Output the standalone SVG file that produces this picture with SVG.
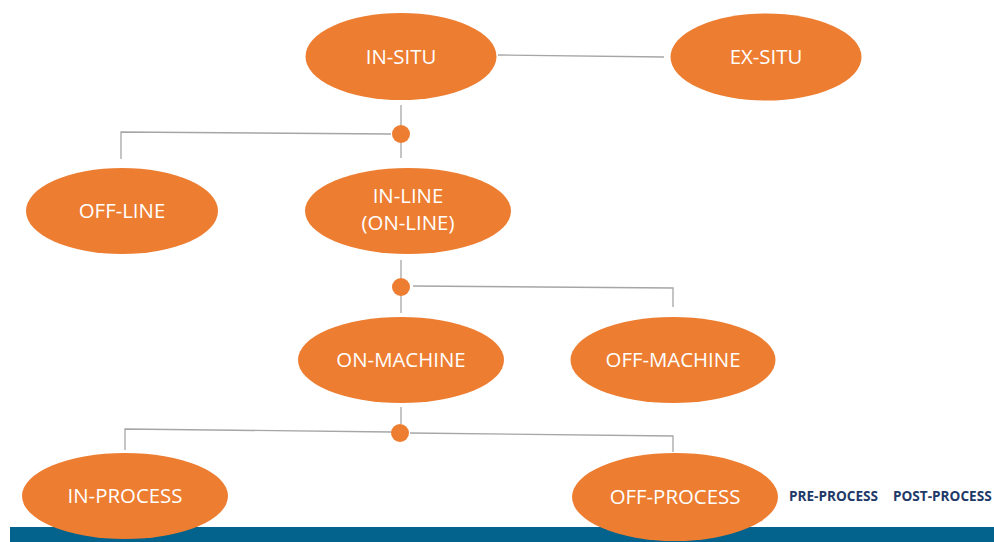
<svg xmlns="http://www.w3.org/2000/svg" width="994" height="542" viewBox="0 0 994 542">
<style>
.node{fill:#ED7D31}
.lbl{fill:#FFFFFF;font-family:"Open Sans","Liberation Sans",sans-serif;font-size:20.4px;text-anchor:middle}
.conn{stroke:#A6A6A6;stroke-width:1.3;fill:none}
.dot{fill:#ED7D31}
.tag{fill:#1F3A68;font-family:"Open Sans","Liberation Sans",sans-serif;font-size:13.6px;font-weight:bold}
</style>
<rect x="0" y="0" width="994" height="542" fill="#FFFFFF"/>
<rect id="bar" x="10" y="527" width="984" height="15" fill="#03638C"/>
<g id="connectors">
<polyline class="conn" points="498,55 664,57"/>
<polyline class="conn" points="401,105 401,158"/>
<polyline class="conn" points="391,134 121,132 121,159"/>
<circle class="dot" cx="401" cy="134" r="9"/>
<polyline class="conn" points="401,260 401,313"/>
<polyline class="conn" points="413,286 673,288 673,307"/>
<circle class="dot" cx="401" cy="287" r="9"/>
<polyline class="conn" points="401,407 401,424"/>
<polyline class="conn" points="391,432 125,429 125,450"/>
<polyline class="conn" points="410,433 673,436 673,452"/>
<circle class="dot" cx="400" cy="433" r="9"/>
</g>
<g id="in-situ"><ellipse class="node" cx="401" cy="56.5" rx="95.5" ry="43.5"/><text class="lbl" x="401" y="63.5">IN-SITU</text></g>
<g id="ex-situ"><ellipse class="node" cx="766" cy="57" rx="95.5" ry="43.5"/><text class="lbl" x="766" y="64">EX-SITU</text></g>
<g id="off-line"><ellipse class="node" cx="122" cy="211" rx="96" ry="43"/><text class="lbl" x="122" y="218">OFF-LINE</text></g>
<g id="in-line"><ellipse class="node" cx="408" cy="211" rx="103" ry="43"/><text class="lbl" x="408" y="203">IN-LINE</text><text class="lbl" x="408" y="230">(ON-LINE)</text></g>
<g id="on-machine"><ellipse class="node" cx="401" cy="360" rx="103" ry="43"/><text class="lbl" x="401" y="367">ON-MACHINE</text></g>
<g id="off-machine"><ellipse class="node" cx="673" cy="360" rx="102.5" ry="43"/><text class="lbl" x="673" y="367">OFF-MACHINE</text></g>
<g id="in-process"><ellipse class="node" cx="125" cy="496" rx="103" ry="43"/><text class="lbl" x="125" y="503">IN-PROCESS</text></g>
<g id="off-process"><ellipse class="node" cx="675" cy="497" rx="103" ry="44"/><text class="lbl" x="675" y="504">OFF-PROCESS</text></g>
<g id="tags"><text class="tag" x="789" y="501">PRE-PROCESS</text><text class="tag" x="893" y="501">POST-PROCESS</text></g>
</svg>
